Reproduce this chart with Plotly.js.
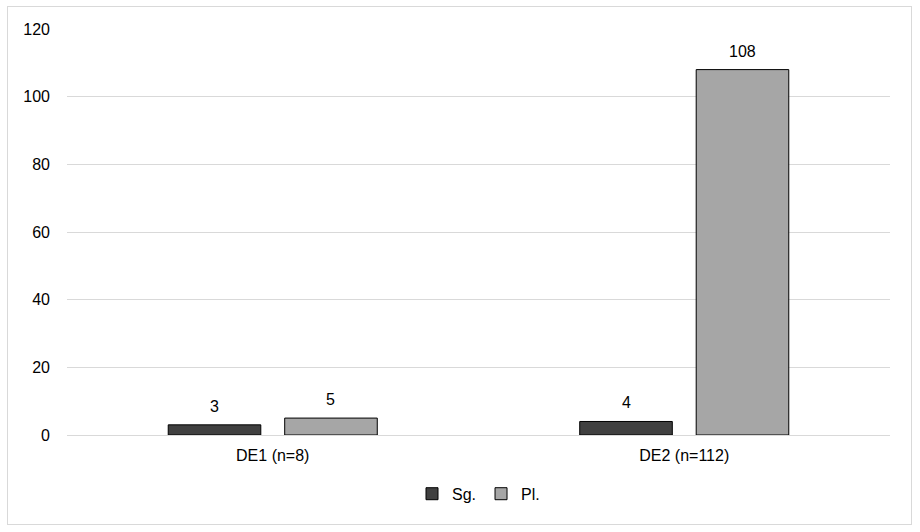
<!DOCTYPE html>
<html><head><meta charset="utf-8">
<script src="https://cdn.plot.ly/plotly-3.0.1.min.js"></script>
<style>body{margin:0;background:#fff}#c{width:920px;height:532px;position:relative}
#frame{position:absolute;left:7px;top:6px;width:905px;height:519px;border:1px solid #d9d9d9;pointer-events:none;box-sizing:border-box}</style>
</head><body><div id="c"></div><div id="frame"></div>
<script>
const categories = ["DE1 (n=8)", "DE2 (n=112)"];
const sgValues = [3, 4];
const plValues = [5, 108];
const seriesNames = ["Sg.", "Pl."];
const colors = ["#404040", "#a6a6a6"];
const font = {family: "Liberation Sans, Arial, sans-serif", size: 16, color: "#000"};
const bargap = 0.434, bargroupgap = 0.205;
const series = [sgValues, plValues];
const data = series.map((vals, i) => ({
  type: "bar", name: seriesNames[i], x: categories, y: vals,
  marker: {color: colors[i], line: {color: "#000", width: 1}}
}));
// data labels as annotations above each bar
const slot = (1 - bargap) / series.length;
const annotations = [];
series.forEach((vals, i) => {
  const off = (i - (series.length - 1) / 2) * slot;
  vals.forEach((v, j) => {
    annotations.push({x: j + off, y: v, xref: "x", yref: "y", text: String(v), showarrow: false,
      yanchor: "bottom", yshift: 8, font: font});
  });
});
const layout = {
  width: 920, height: 532, margin: {l: 67, r: 30, t: 29, b: 97},
  paper_bgcolor: "#fff", plot_bgcolor: "#fff", font: font,
  barmode: "group", bargap: bargap, bargroupgap: bargroupgap,
  showlegend: true, annotations: annotations,
  legend: {orientation: "h", x: 0.5, xanchor: "center", y: -0.103, yanchor: "top", font: font, itemwidth: 30, traceorder: "normal"},
  xaxis: {showgrid: false, showline: true, linecolor: "#d9d9d9", ticks: "", tickfont: font, ticklabelstandoff: 6},
  yaxis: {range: [0, 120], dtick: 20, showgrid: true, gridcolor: "#d9d9d9", zeroline: true, zerolinecolor: "#d9d9d9",
          showline: false, ticks: "", tickfont: font, ticklabelstandoff: 16},
};
Plotly.newPlot("c", data, layout, {displayModeBar: false, staticPlot: true});
</script></body></html>
